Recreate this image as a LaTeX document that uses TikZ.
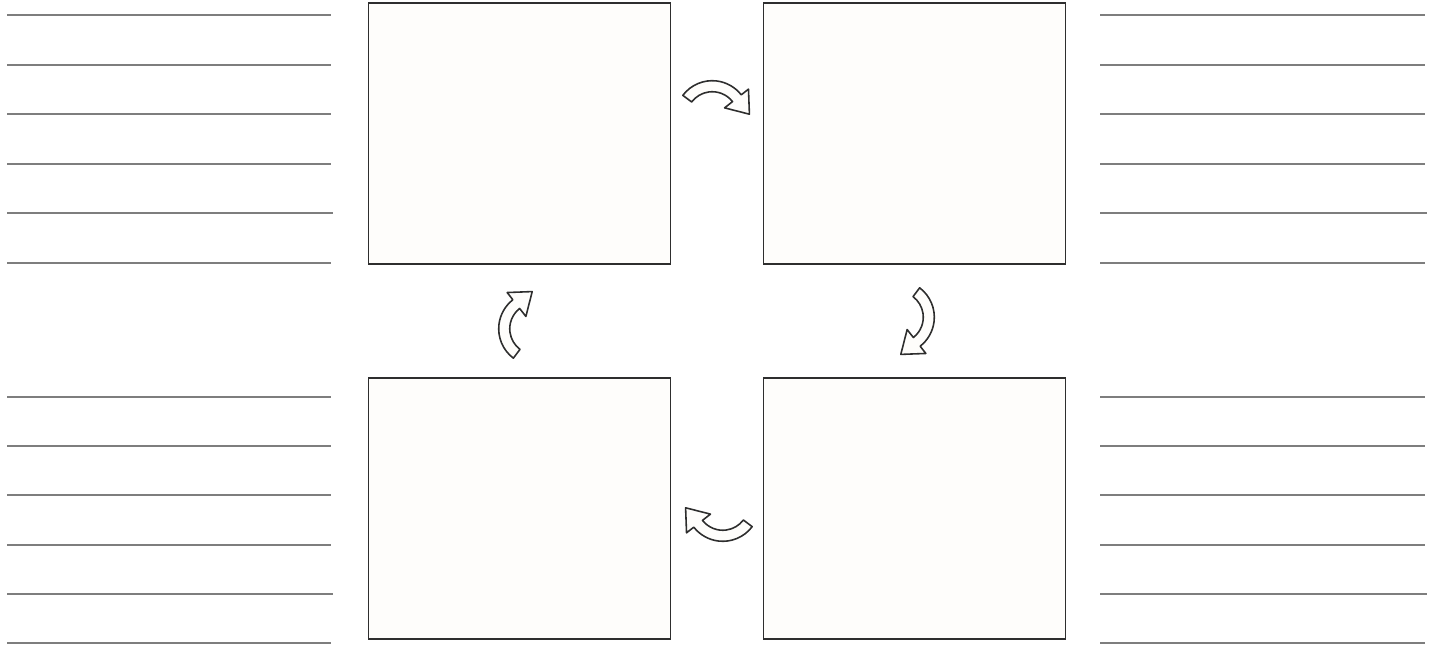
\documentclass[tikz,border=0pt]{standalone}
\usepackage{xcolor}
\usepackage{tikz}
\usetikzlibrary{positioning}
\definecolor{frame}{HTML}{2E2E2E}
\definecolor{linegrey}{HTML}{7E7E7E}
\definecolor{paper}{HTML}{FEFDFB}

\begin{document}
\begin{tikzpicture}[
    x=0.02cm, y=0.02cm,
    panel/.style={draw=frame, line width=0.9pt, fill=paper, minimum width=6.04cm, minimum height=5.22cm, inner sep=0pt, outer sep=0pt},
    ruling/.style={draw=linegrey, line width=1.4pt},
    turn/.pic={
        \draw[frame, line width=0.9pt, fill=paper, line join=round, shift={(0,-25)}]
            (155:40) arc[start angle=155, end angle=50, radius=40]
            -- (50:50) -- (38.8,11.9) -- (50:17) -- (50:28)
            arc[start angle=50, end angle=155, radius=28] -- cycle;
    }
]
    \useasboundingbox (0,0) rectangle (1435,645);

    % four panels
    \node[panel] (tl) at (519.5,511.5) {};
    \node[panel, right=1.86cm of tl] (tr) {};
    \node[panel, below=2.28cm of tl] (bl) {};
    \node[panel, below=2.28cm of tr] (br) {};

    % writing lines
    \foreach \y/\e in {630/331, 580/331, 531/331, 481/331, 432/333, 382/331,
                       248/331, 199/331, 150/331, 100/331, 51/333, 2/331} {
        \draw[ruling] (7,\y) -- (\e,\y);
        \draw[ruling] (1100,\y) -- (1094+\e,\y);
    }

    % cycle arrows
    \pic[rotate=-12, scale=0.92] (up) at (717,550) {turn};
    \pic[rotate=-102, scale=0.92] (rt) at (920,323) {turn};
    \pic[rotate=-192, scale=0.92] (dn) at (718,118) {turn};
    \pic[rotate=-282, scale=0.92] (lt) at (513,321) {turn};
\end{tikzpicture}
\end{document}
